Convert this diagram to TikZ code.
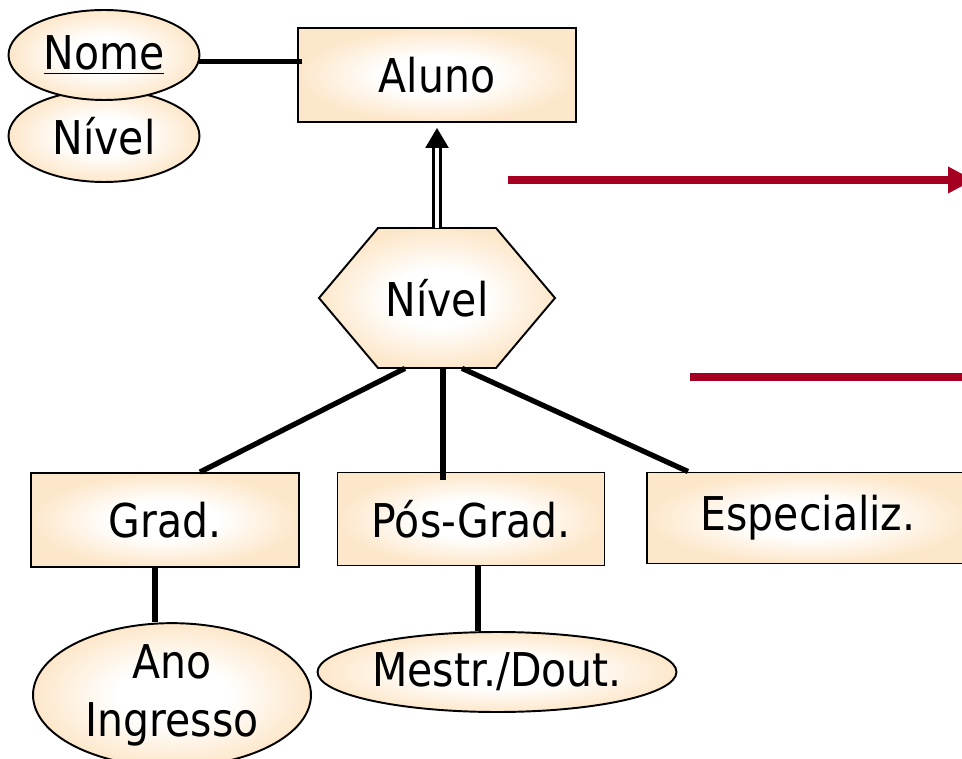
\documentclass[tikz,border=0pt]{standalone}
\usepackage{fontspec}
\setmainfont{DejaVu Sans}[FakeStretch=0.88]
\usepackage{tikz}
\usetikzlibrary{shapes,positioning,calc,arrows.meta}
\usepackage{xcolor}
\definecolor{erpeach}{RGB}{253,231,202}
\definecolor{notered}{RGB}{165,0,33}
\pgfdeclareradialshading{erfill}{\pgfpoint{0bp}{0bp}}{color(0bp)=(white); color(10bp)=(white); color(25bp)=(erpeach); color(50bp)=(erpeach)}

\begin{document}
\begin{tikzpicture}[
    x=0.02cm, y=-0.02cm,
    every node/.style={font=\fontsize{26.5}{33}\selectfont, align=center, inner sep=0pt},
    entity/.style={draw, line width=1.1pt, rectangle, shading=erfill},
    attrib/.style={draw, line width=1.1pt, ellipse, shading=erfill},
    hexa/.style={draw, line width=1.1pt, shade, shading=erfill},
    conn/.style={line width=3pt},
    isa/.style={double, line width=1.5pt, double distance=2.2pt, -{Triangle[length=0.4cm, width=0.46cm]}},
    note/.style={draw=notered, line width=4.5pt}
]
\useasboundingbox (0,0) rectangle (962,759);
\clip (0,0) rectangle (962,759);

% attributes of Aluno
\node[attrib, minimum width=3.82cm, minimum height=1.84cm] (nivelattr) at (104,136) {Nível};
\node[attrib, minimum width=3.82cm, minimum height=1.8cm] (nome) at (104,55) {\underline{Nome}};
\node[entity, minimum width=5.56cm, minimum height=1.88cm] (aluno) at (437,75) {Aluno};

% specialisation hexagon
\coordinate (hc) at (437,298);
\path[hexa] ($(hc)+(-118,0)$) -- ++(59,-70) -- ++(118,0) -- ++(59,70) -- ++(-59,70) -- ++(-118,0) -- cycle;
\node[minimum width=4.72cm, minimum height=2.8cm] (hex) at (hc) {Nível};

% subclasses
\node[entity, minimum width=5.36cm, minimum height=1.88cm] (grad) at (165,520) {Grad.};
\node[entity, minimum width=5.34cm, minimum height=1.86cm] (posgrad) at (471,519) {Pós-Grad.};
\node[entity, minimum width=6.44cm, minimum height=1.82cm] (espec) at (808,518) {Especializ.};
\node[attrib, minimum width=5.56cm, minimum height=2.6cm] (ano) at (172,695) {Ano\\Ingresso};
\node[attrib, minimum width=7.18cm, minimum height=1.6cm] (mestr) at (497,672) {Mestr./Dout.};

\draw[conn, shorten >=-0.1cm] (nome.-4) -- (nome.-4 -| aluno.west);
\draw[isa, shorten >=0.1cm] (hex.north) -- (aluno.south);
\draw[conn] ($(hex.south)+(-32,0)$) -- ($(grad.north)+(35,0)$);
\draw[conn] ($(hex.south)+(6,0)$) -- ($(posgrad.north)+(-28,8)$);
\draw[conn] ($(hex.south)+(25,0)$) -- ($(espec.north)+(-120,0)$);
\draw[conn] ($(grad.south)+(-10,0)$) -- ($(ano.north)+(-17,0)$);
\draw[conn] ($(posgrad.south)+(7,0)$) -- ($(mestr.north)+(-19,0)$);

% red markers
\coordinate (arrstart) at (508,180);
\coordinate (arrend) at (974,180);
\draw[note, -{Triangle[length=0.52cm, width=0.5cm]}] (arrstart) -- (arrend);
\coordinate (barstart) at (690,377);
\coordinate (barend) at (970,377);
\draw[note] (barstart) -- (barend);
\end{tikzpicture}
\end{document}
